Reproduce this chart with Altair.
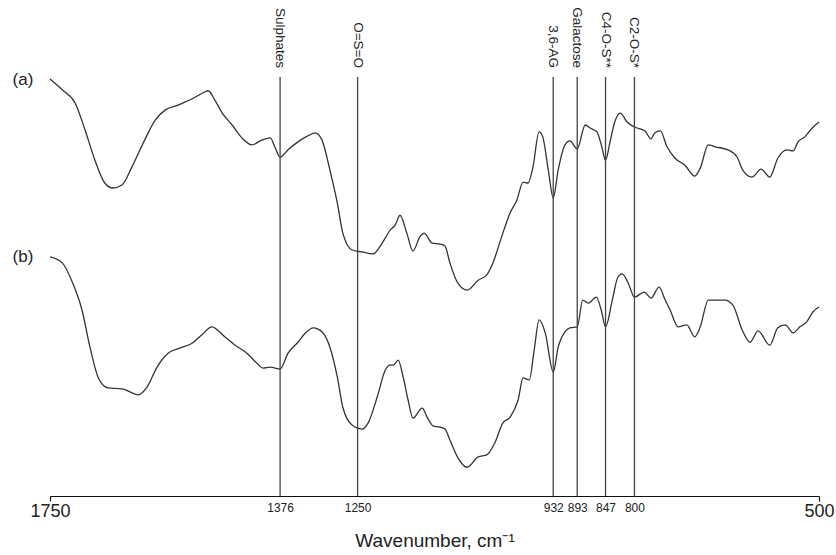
import altair as alt
import pandas as pd

# Spectrum (a): wavenumber (cm-1) and relative transmittance (arbitrary units)
wn_a = [1750, 1730, 1709, 1693, 1677, 1661, 1648, 1633, 1617, 1596, 1579, 1563, 1542, 1531, 1514,
        1498, 1493, 1482, 1470, 1454, 1438, 1422, 1405, 1392, 1384, 1376, 1363, 1347, 1331, 1319,
        1308, 1295, 1283, 1274, 1259, 1243, 1225, 1210, 1197, 1189, 1181, 1170, 1160, 1149, 1142,
        1129, 1116, 1108, 1100, 1087, 1072, 1054, 1040, 1030, 1015, 1002, 991, 981, 973, 965,
        955, 949, 940, 932, 924, 913, 905, 893, 880, 872, 861, 853, 847, 840, 832,
        823, 812, 800, 783, 773, 767, 758, 747, 734, 718, 702, 693, 680, 669, 648,
        633, 624, 609, 594, 580, 567, 552, 542, 534, 523, 511, 500]
t_a = [84.1, 81.9, 79.2, 73.8, 67.7, 63.1, 62.1, 62.7, 66.3, 71.8, 75.8, 77.8, 78.8, 79.4, 80.4,
       81.5, 81.7, 79.8, 77.2, 74.8, 72.2, 70.8, 71.8, 72.2, 70.2, 68.3, 69.8, 71.4, 72.6, 73.2,
       71.8, 65.7, 59.1, 53.0, 49.6, 49.2, 48.8, 51.0, 53.6, 54.6, 56.6, 53.0, 49.4, 52.2, 53.0,
       51.0, 50.8, 50.4, 47.0, 42.9, 41.5, 43.5, 44.6, 47.0, 52.6, 57.1, 59.7, 63.3, 63.1, 66.3,
       73.4, 72.4, 65.7, 60.1, 65.7, 70.8, 71.6, 70.0, 74.8, 74.2, 73.4, 70.4, 67.7, 71.2, 75.4,
       77.2, 75.4, 74.4, 73.6, 72.0, 73.2, 73.6, 70.4, 68.1, 66.7, 64.5, 66.1, 70.8, 70.4, 69.8,
       68.3, 65.7, 64.3, 65.9, 64.3, 68.1, 69.8, 69.6, 71.4, 72.4, 74.2, 75.4]

# Spectrum (b)
wn_b = [1750, 1730, 1713, 1698, 1685, 1672, 1656, 1633, 1620, 1607, 1592, 1576, 1558, 1539, 1519,
        1503, 1487, 1466, 1449, 1430, 1414, 1404, 1392, 1376, 1363, 1347, 1336, 1322, 1308, 1295,
        1283, 1274, 1259, 1243, 1233, 1218, 1205, 1197, 1192, 1184, 1176, 1168, 1160, 1145, 1137,
        1127, 1116, 1108, 1100, 1087, 1072, 1054, 1040, 1027, 1014, 1002, 989, 981, 971, 963,
        955, 945, 932, 924, 913, 905, 893, 884, 875, 862, 854, 847, 836, 827, 820,
        810, 800, 784, 773, 760, 750, 742, 729, 715, 702, 693, 680, 669, 653, 640,
        625, 612, 599, 580, 567, 555, 542, 531, 520, 510, 500]
t_b = [48.2, 47.0, 42.9, 37.5, 30.0, 24.0, 21.8, 21.6, 21.0, 20.4, 22.0, 26.0, 28.8, 29.8, 30.8,
       32.5, 34.1, 32.1, 30.4, 28.8, 26.8, 25.8, 26.0, 25.6, 28.8, 31.0, 32.7, 33.9, 33.1, 30.0,
       24.0, 17.9, 14.3, 13.5, 14.7, 20.0, 25.4, 26.4, 26.4, 27.4, 24.0, 19.4, 15.7, 17.7, 15.9,
       14.1, 13.9, 13.5, 11.3, 7.7, 5.8, 7.9, 8.3, 10.7, 14.7, 15.9, 19.4, 23.8, 23.4, 29.4,
       35.5, 32.9, 25.0, 30.0, 33.1, 33.9, 34.1, 39.5, 38.9, 40.1, 37.5, 34.1, 39.5, 44.1, 44.8,
       42.9, 40.1, 41.1, 39.9, 42.1, 39.5, 37.5, 34.1, 34.5, 32.1, 34.1, 39.5, 39.5, 39.5, 38.5,
       33.5, 31.0, 33.3, 30.4, 33.9, 34.5, 32.9, 34.1, 35.1, 37.1, 38.1]

# Band assignments
band_wn = [1376, 1250, 932, 893, 847, 800]
band_label = ["Sulphates", "O=S=O", "3,6-AG", "Galactose", "C4-O-S**", "C2-O-S*"]
band_top = 84.5
label_anchor = 86.3

axis_values = [1750, 1376, 1250, 932, 893, 847, 800, 500]

series_names = ["(a)", "(b)"]
series_label_y = [80, 257]

FONT = "Liberation Sans"

spec_df = pd.concat([
    pd.DataFrame({"wn": wn_a, "t": t_a, "series": "(a)"}),
    pd.DataFrame({"wn": wn_b, "t": t_b, "series": "(b)"}),
], ignore_index=True)
bands_df = pd.DataFrame({"wn": band_wn, "label": band_label, "bottom": 0.0, "top": band_top})
names_df = pd.DataFrame({"name": series_names, "py": series_label_y})

xscale = alt.Scale(domain=[1750, 500], nice=False, zero=False)
yscale = alt.Scale(domain=[0, 100], nice=False, zero=False)

end_test = "datum.value == 1750 || datum.value == 500"
xaxis = alt.Axis(
    values=axis_values,
    format="d",
    grid=False,
    domainColor="#111",
    domainWidth=1.2,
    tickColor="#111",
    tickWidth=1.2,
    tickSize=5,
    tickOpacity=alt.condition(end_test, alt.value(1), alt.value(0)),
    labelFont=FONT,
    labelColor="#222",
    labelFontSize=alt.condition(end_test, alt.value(18), alt.value(12)),
    labelPadding=1,
    labelBaseline="top",
    labelFlush=False,
    labelOverlap=False,
    title="Wavenumber, cm\u207b\u00b9",
    titleFont=FONT,
    titleFontSize=19,
    titleFontWeight="normal",
    titleColor="#222",
    titlePadding=11,
)

lines = alt.Chart(spec_df).mark_line(
    color="#333", strokeWidth=1.3, interpolate="monotone"
).encode(
    x=alt.X("wn:Q", scale=xscale, axis=xaxis),
    y=alt.Y("t:Q", scale=yscale, axis=None),
    detail="series:N",
)

rules = alt.Chart(bands_df).mark_rule(color="#444", strokeWidth=1.3).encode(
    x=alt.X("wn:Q", scale=xscale),
    y=alt.Y("bottom:Q", scale=yscale),
    y2="top:Q",
)

band_text = alt.Chart(bands_df).mark_text(
    angle=90, align="right", baseline="middle", font=FONT, fontSize=13.5, color="#222"
).encode(
    x=alt.X("wn:Q", scale=xscale),
    y=alt.Y(datum=label_anchor, scale=yscale),
    text="label:N",
)

name_text = alt.Chart(names_df).mark_text(
    align="center", baseline="middle", font=FONT, fontSize=17, color="#222"
).encode(
    x=alt.value(-27),
    y=alt.Y("py:Q", scale=None),
    text="name:N",
)

chart = alt.layer(lines, rules, band_text, name_text).properties(
    width=769,
    height=496,
    autosize=alt.AutoSizeParams(type="none"),
    padding={"left": 50, "top": 0, "right": 17, "bottom": 59},
    background="white",
).configure_view(stroke=None)

chart.save("out.html", embed_options={"renderer": "svg", "actions": False})
